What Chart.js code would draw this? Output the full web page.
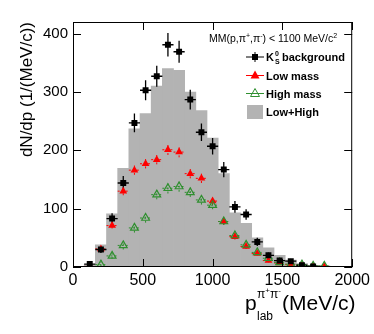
<!DOCTYPE html>
<html>
<head>
<meta charset="utf-8">
<script src="https://cdn.jsdelivr.net/npm/chart.js@4.4.1/dist/chart.umd.min.js"></script>
<style>
  html, body { margin: 0; padding: 0; background: #fff; }
</style>
</head>
<body>
<canvas id="chart" width="374" height="334"></canvas>
<script>
// Bin centres (MeV/c), bins are 80 MeV/c wide
const momentum = [120, 200, 280, 360, 440, 520, 600, 680, 760, 840, 920, 1000, 1080, 1160, 1240, 1320, 1400, 1480, 1560, 1640, 1720, 1800];

// K_S^0 background (black squares) and its errors
const ksBackground = [5, 30, 83, 144, 247, 303, 327, 381, 369, 287, 231, 207, 167, 103, 90, 43, 20, 11, 10, 3, 1];
const ksError      = [2, 6, 9, 12, 16, 17, 18, 20, 19, 17, 15, 14, 13, 10, 9, 7, 5, 3, 3, 2, 1];

// Low mass (red) and high mass (green)
const lowMass  = [1, 31, 71, 130, 166, 177, 184, 201, 197, 160, 152, 113, 78, 52, 35, 23, 11, 7, 4, 2, 1, 1];
const highMass = [0, 4, 19, 37, 67, 84, 124, 135, 138, 128, 115, 106, 78, 54, 38, 25, 15, 8, 5, 4, 2, 2];
const smallError = [1, 4, 5, 7, 8, 8, 8, 9, 9, 8, 8, 7, 6, 5, 4, 3, 3, 2, 2, 1, 1, 1];

// Low+High histogram (gray)
const lowPlusHigh = [4, 38, 91, 169, 237, 263, 310, 340, 337, 300, 268, 221, 160, 93, 75, 50, 33, 20, 12, 6, 3, 2];

const binHalfWidth = 40;
const GREEN = '#2f8f2f';
const FONT = '"Liberation Sans", Arial, sans-serif';

const toPoints = (vals) => vals.map((v, i) => ({ x: momentum[i], y: v }));

// error bars are drawn right after the histogram, below the markers
const errorBars = {
  id: 'errorBars',
  afterDatasetDraw(chart, args) {
    if (args.index !== 3) return;
    const { ctx, chartArea, scales: { x, y } } = chart;
    ctx.save();
    ctx.beginPath();
    ctx.rect(chartArea.left, chartArea.top, chartArea.width, chartArea.height);
    ctx.clip();

    const drawSet = (vals, errs, color, dashed, width) => {
      ctx.strokeStyle = color;
      ctx.lineWidth = width;
      ctx.setLineDash(dashed ? [2, 2] : []);
      vals.forEach((v, i) => {
        const px = x.getPixelForValue(momentum[i]);
        const py = y.getPixelForValue(v);
        ctx.beginPath();
        ctx.moveTo(x.getPixelForValue(momentum[i] - binHalfWidth), py);
        ctx.lineTo(x.getPixelForValue(momentum[i] + binHalfWidth), py);
        ctx.moveTo(px, y.getPixelForValue(v - errs[i]));
        ctx.lineTo(px, y.getPixelForValue(v + errs[i]));
        ctx.stroke();
      });
    };
    drawSet(lowMass, smallError, '#ff0000', true, 1);
    drawSet(highMass, smallError, GREEN, true, 1);
    drawSet(ksBackground, ksError, '#000', false, 1.3);
    ctx.restore();
  }
};

// frame, inward ticks, axis title and legend
const decorations = {
  id: 'decorations',
  afterDraw(chart) {
    const { ctx, chartArea: a, scales: { x, y } } = chart;
    ctx.save();
    ctx.strokeStyle = '#000';
    ctx.lineWidth = 1;
    ctx.strokeRect(a.left + 0.5, a.top + 0.5, a.width - 1, a.height - 1);

    ctx.beginPath();
    for (let v = 0; v <= 400; v += 100) {
      const py = Math.round(y.getPixelForValue(v)) + 0.5;
      ctx.moveTo(a.left, py); ctx.lineTo(a.left + 8, py);
      ctx.moveTo(a.right, py); ctx.lineTo(a.right - 8, py);
    }
    for (let v = 0; v <= 2000; v += 500) {
      const px = Math.round(x.getPixelForValue(v)) + 0.5;
      ctx.moveTo(px, a.top); ctx.lineTo(px, a.top + 8);
      ctx.moveTo(px, a.bottom); ctx.lineTo(px, a.bottom - 8);
    }
    ctx.stroke();

    ctx.fillStyle = '#000';
    ctx.textBaseline = 'alphabetic';
    ctx.textAlign = 'left';

    // x axis title: p_lab^{pi+pi-} (MeV/c)
    ctx.font = '21px ' + FONT;
    ctx.fillText('p', 245, 310);
    ctx.font = '12px ' + FONT;
    ctx.fillText('lab', 257, 320);
    let sx = 257;
    ctx.fillText('\u03c0', sx, 298); sx += ctx.measureText('\u03c0').width;
    ctx.font = '8px ' + FONT;
    ctx.fillText('+', sx, 293); sx += ctx.measureText('+').width;
    ctx.font = '12px ' + FONT;
    ctx.fillText('\u03c0', sx, 298); sx += ctx.measureText('\u03c0').width;
    ctx.font = '8px ' + FONT;
    ctx.fillText('-', sx, 293);
    ctx.font = '21px ' + FONT;
    ctx.fillText('(MeV/c)', 282, 310);

    // legend header
    const parts = [
      ['MM(p,\u03c0', 0, 10.5], ['+', -4, 7], [',\u03c0', 0, 10.5], ['-', -4, 7],
      [') < 1100 MeV/c', 0, 10.5], ['2', -4, 7]
    ];
    let hx = 209;
    parts.forEach(([t, dy, s]) => {
      ctx.font = s + 'px ' + FONT;
      ctx.fillText(t, hx, 42 + dy);
      hx += ctx.measureText(t).width;
    });

    // legend entries
    const mx = 255, tx = 266;
    const rows = [57, 75.5, 93.5, 112];
    ctx.lineWidth = 1;
    ctx.strokeStyle = '#000';
    ctx.beginPath();
    ctx.moveTo(mx - 9, rows[0]); ctx.lineTo(mx + 9, rows[0]);
    ctx.moveTo(mx, rows[0] - 5); ctx.lineTo(mx, rows[0] + 5);
    ctx.stroke();
    ctx.fillRect(mx - 3, rows[0] - 3, 6, 6);

    ctx.strokeStyle = '#ff0000';
    ctx.beginPath(); ctx.moveTo(mx - 9, rows[1]); ctx.lineTo(mx + 9, rows[1]); ctx.stroke();
    ctx.fillStyle = '#ff0000';
    ctx.beginPath();
    ctx.moveTo(mx, rows[1] - 5); ctx.lineTo(mx + 4.5, rows[1] + 3); ctx.lineTo(mx - 4.5, rows[1] + 3);
    ctx.closePath(); ctx.fill();

    ctx.strokeStyle = GREEN;
    ctx.beginPath(); ctx.moveTo(mx - 9, rows[2]); ctx.lineTo(mx + 9, rows[2]); ctx.stroke();
    ctx.beginPath();
    ctx.moveTo(mx, rows[2] - 5); ctx.lineTo(mx + 4.5, rows[2] + 3); ctx.lineTo(mx - 4.5, rows[2] + 3);
    ctx.closePath(); ctx.stroke();

    ctx.fillStyle = '#b3b3b3';
    ctx.fillRect(247, rows[3] - 7, 16, 14);

    ctx.fillStyle = '#000';
    ctx.font = 'bold 11px ' + FONT;
    ctx.fillText('K', tx, rows[0] + 4);
    const kw = ctx.measureText('K').width;
    ctx.font = 'bold 7px ' + FONT;
    ctx.fillText('0', tx + kw + 1, rows[0] - 1);
    ctx.fillText('S', tx + kw + 1, rows[0] + 7);
    ctx.font = 'bold 11px ' + FONT;
    ctx.fillText('background', tx + kw + 8, rows[0] + 4);
    ctx.fillText('Low mass', tx, rows[1] + 4);
    ctx.fillText('High mass', tx, rows[2] + 4);
    ctx.fillText('Low+High', tx, rows[3] + 4);
    ctx.restore();
  }
};

new Chart(document.getElementById('chart'), {
  type: 'scatter',
  data: {
    datasets: [
      {
        label: 'K_S^0 background',
        data: toPoints(ksBackground),
        pointStyle: 'rect',
        pointRadius: 4.2,
        backgroundColor: '#000',
        borderColor: '#000',
        borderWidth: 0,
        order: 0
      },
      {
        label: 'High mass',
        data: toPoints(highMass),
        pointStyle: 'triangle',
        pointRadius: 4.5,
        backgroundColor: 'rgba(0,0,0,0)',
        borderColor: GREEN,
        borderWidth: 1.2,
        order: 1
      },
      {
        label: 'Low mass',
        data: toPoints(lowMass),
        pointStyle: 'triangle',
        pointRadius: 4.5,
        backgroundColor: '#ff0000',
        borderColor: '#ff0000',
        borderWidth: 0,
        order: 2
      },
      {
        type: 'bar',
        label: 'Low+High',
        data: toPoints(lowPlusHigh),
        backgroundColor: '#b3b3b3',
        borderWidth: 0,
        barPercentage: 1,
        categoryPercentage: 1,
        order: 3
      }
    ]
  },
  options: {
    responsive: false,
    animation: false,
    devicePixelRatio: 1,
    layout: { padding: { left: 0, right: 18.5, top: 22, bottom: 0 } },
    plugins: {
      legend: { display: false },
      tooltip: { enabled: false }
    },
    scales: {
      x: {
        type: 'linear',
        min: 0,
        max: 2000,
        offset: false,
        grid: { display: false, drawTicks: false },
        border: { display: false },
        ticks: {
          stepSize: 500,
          padding: 4,
          color: '#000',
          font: { family: FONT, size: 16 },
          maxRotation: 0,
          callback: (v) => String(v)
        },
        afterFit(scale) { scale.height = 67; }
      },
      y: {
        min: 0,
        max: 420,
        grid: { display: false, drawTicks: false },
        border: { display: false },
        ticks: {
          stepSize: 100,
          includeBounds: false,
          padding: 5,
          color: '#000',
          font: { family: FONT, size: 15 }
        },
        title: {
          display: true,
          text: 'dN/dp (1/(MeV/c))',
          align: 'end',
          color: '#000',
          font: { family: FONT, size: 17 },
          padding: { top: 17, bottom: 0 }
        },
        afterFit(scale) { scale.width = 73; }
      }
    }
  },
  plugins: [errorBars, decorations]
});
</script>
</body>
</html>
